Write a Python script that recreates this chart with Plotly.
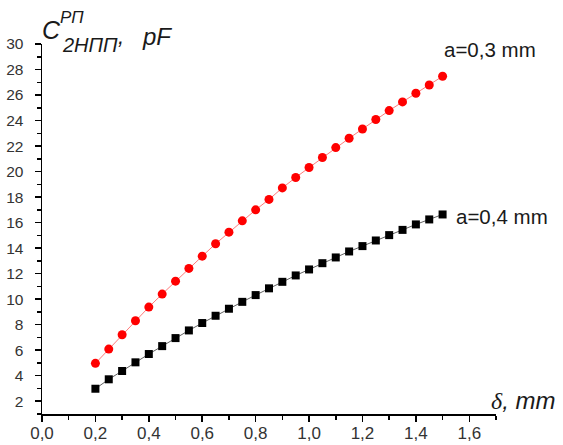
import plotly.graph_objects as go

# ---- data ----
delta = [0.20, 0.25, 0.30, 0.35, 0.40, 0.45, 0.50, 0.55, 0.60, 0.65,
         0.70, 0.75, 0.80, 0.85, 0.90, 0.95, 1.00, 1.05, 1.10, 1.15,
         1.20, 1.25, 1.30, 1.35, 1.40, 1.45, 1.50]
c_a03 = [4.97, 6.09, 7.21, 8.31, 9.38, 10.40, 11.41, 12.41, 13.37, 14.34,
         15.25, 16.14, 17.00, 17.82, 18.72, 19.54, 20.32, 21.10, 21.88, 22.61,
         23.34, 24.08, 24.78, 25.46, 26.14, 26.79, 27.47]
c_a04 = [2.98, 3.72, 4.37, 5.05, 5.70, 6.32, 6.95, 7.55, 8.13, 8.70,
         9.25, 9.79, 10.32, 10.85, 11.36, 11.86, 12.33, 12.82, 13.27, 13.74,
         14.16, 14.60, 15.02, 15.43, 15.86, 16.25, 16.64]
x_tickvals = [0.0, 0.2, 0.4, 0.6, 0.8, 1.0, 1.2, 1.4, 1.6]
x_ticktext = ["0,0", "0,2", "0,4", "0,6", "0,8", "1,0", "1,2", "1,4", "1,6"]
y_tickvals = [2, 4, 6, 8, 10, 12, 14, 16, 18, 20, 22, 24, 26, 28, 30]
y_ticktext = [str(v) for v in y_tickvals]
label_a03 = "a=0,3 mm"
label_a04 = "a=0,4 mm"

# ---- layout geometry ----
W, H = 563, 445
L, R, T, B = 42, 67, 44, 31
PW, PH = W - L - R, H - T - B


def px(x):
    return (x - L) / PW


def py(y):
    return (H - B - y) / PH


SANS = "Liberation Sans, Arial, sans-serif"
TXT = "#1a1a1a"

fig = go.Figure()
fig.add_trace(go.Scatter(
    x=delta, y=c_a03, mode="lines+markers",
    line=dict(color="rgba(255,90,90,0.8)", width=1),
    marker=dict(symbol="circle", size=9, color="#ff0000", line=dict(width=0)),
    showlegend=False, cliponaxis=False, hoverinfo="skip"))
fig.add_trace(go.Scatter(
    x=delta, y=c_a04, mode="lines+markers",
    line=dict(color="rgba(60,60,60,0.8)", width=1),
    marker=dict(symbol="square", size=8, color="#000000", line=dict(width=0)),
    showlegend=False, cliponaxis=False, hoverinfo="skip"))

ann = []
# y axis title  C^{РП}_{2НПП}, pF
ann.append(dict(text="<i>C</i>", x=px(40), y=py(30), xanchor="left", yanchor="middle",
                font=dict(size=25, family=SANS, color=TXT)))
ann.append(dict(text="<i>РП</i>", x=px(58), y=py(17), xanchor="left", yanchor="middle",
                font=dict(size=17, family=SANS, color=TXT)))
ann.append(dict(text="<i>2НПП</i>", x=px(60), y=py(45), xanchor="left", yanchor="middle",
                font=dict(size=20, family=SANS, color=TXT)))
ann.append(dict(text="<i>,</i>", x=px(116), y=py(36), xanchor="left", yanchor="middle",
                font=dict(size=22, family=SANS, color=TXT)))
ann.append(dict(text="<i>pF</i>", x=px(140), y=py(36), xanchor="left", yanchor="middle",
                font=dict(size=24, family=SANS, color=TXT)))
# x axis title
ann.append(dict(text="<i><span style=\"font-family:'Liberation Serif'\">δ</span>, mm</i>",
                x=px(489), y=py(400), xanchor="left", yanchor="middle",
                font=dict(size=24, family=SANS, color=TXT)))
# series labels
ann.append(dict(text=label_a03, x=px(442), y=py(50), xanchor="left", yanchor="middle",
                font=dict(size=20.5, family=SANS, color=TXT)))
ann.append(dict(text=label_a04, x=px(454), y=py(216), xanchor="left", yanchor="middle",
                font=dict(size=20.5, family=SANS, color=TXT)))
for a in ann:
    a.update(xref="paper", yref="paper", showarrow=False)

axis_common = dict(
    showgrid=False, zeroline=False, showline=True, linecolor="#000000", linewidth=1.5,
    ticks="outside", ticklen=6, tickwidth=1.5, tickcolor="#000000", automargin=False,
)
fig.update_layout(
    width=W, height=H, autosize=False,
    margin=dict(l=L, r=R, t=T, b=B),
    paper_bgcolor="white", plot_bgcolor="white",
    hovermode=False,
    xaxis=dict(range=[0, 1.7], tickmode="array", tickvals=x_tickvals, ticktext=x_ticktext,
               tickfont=dict(size=17, family=SANS, color="#333333"),
               ticklabelstandoff=-3,
               minor=dict(dtick=0.1, tick0=0, ticks="outside", ticklen=4, tickwidth=1.5,
                          tickcolor="#000000", showgrid=False),
               **axis_common),
    yaxis=dict(range=[1, 30], tickmode="array", tickvals=y_tickvals, ticktext=y_ticktext,
               tickfont=dict(size=15.5, family=SANS, color="#333333"),
               ticklabelstandoff=8,
               minor=dict(dtick=1, tick0=0, ticks="outside", ticklen=4, tickwidth=1.5,
                          tickcolor="#000000", showgrid=False),
               **axis_common),
    annotations=ann,
)

fig.write_html("out.html", config={"displayModeBar": False, "staticPlot": True},
               post_script="document.body.style.margin='0';")
